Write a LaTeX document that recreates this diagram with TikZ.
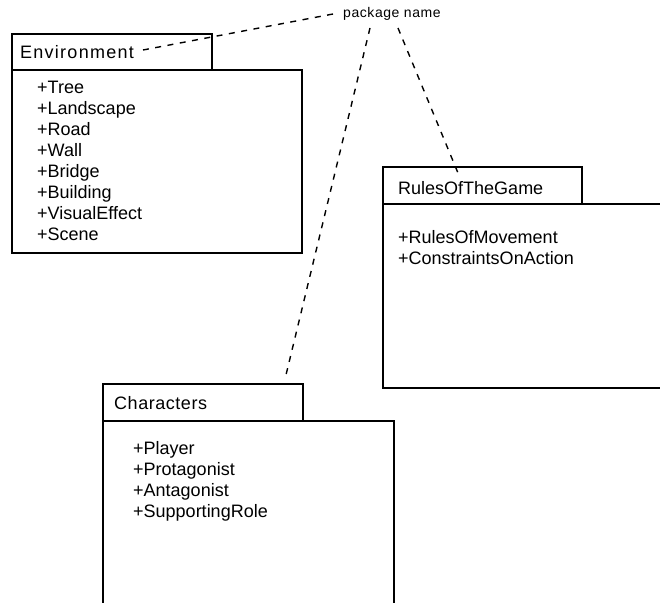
\documentclass[tikz,border=0pt]{standalone}
\usepackage{fontspec}
\setmainfont{Liberation Sans}
\begin{document}
\begin{tikzpicture}[x=1pt,y=-1pt,
  frame/.style={draw=black,line width=1.6pt},
  label/.style={anchor=base west,inner sep=0pt,font=\fontsize{18}{21}\selectfont},
  item/.style={anchor=base west,inner sep=0pt,font=\fontsize{18}{21}\selectfont},
  link/.style={draw=black,line width=1.4pt,dash pattern=on 6pt off 6.5pt}]
\useasboundingbox (0,0) rectangle (660,602);

% package name label
\node[anchor=base west,inner sep=0pt,font=\fontsize{14}{16}\selectfont\addfontfeature{LetterSpace=4}] (pkg) at (343,18) {package name};

% Environment package
\draw[frame] (12,70) rectangle (212,34);
\draw[frame] (12,70) rectangle (302,253);
\node[label,font=\fontsize{18}{21}\selectfont\addfontfeature{LetterSpace=7}] (envname) at (20,58) {Environment};
\foreach \t [count=\i from 0] in {Tree,Landscape,Road,Wall,Bridge,Building,VisualEffect,Scene}
  \node[item] (env\i) at (37,{93+21*\i}) {+\t};

% RulesOfTheGame package
\draw[frame] (383,204) rectangle (582,167);
\draw[frame] (661,204) -- (383,204) -- (383,388) -- (661,388);
\node[label] (rulesname) at (398,194) {RulesOfTheGame};
\node[item] (rules0) at (398,243) {+RulesOfMovement};
\node[item] (rules1) at (398,264) {+ConstraintsOnAction};

% Characters package
\draw[frame] (103,421) rectangle (303,384);
\draw[frame] (103,604) -- (103,421) -- (394,421) -- (394,604);
\node[label,font=\fontsize{18}{21}\selectfont\addfontfeature{LetterSpace=3}] (charname) at (114,409) {Characters};
\foreach \t [count=\i from 0] in {Player,Protagonist,Antagonist,SupportingRole}
  \node[item] (char\i) at (133,{454+21*\i}) {+\t};

% dashed links from the package name
\coordinate (pkgA) at (333,14);
\coordinate (pkgB) at (370,28);
\coordinate (pkgC) at (398,28);
\coordinate (envEnd) at (143,50);
\coordinate (charEnd) at (285,379);
\coordinate (rulesEnd) at (458,173);
\draw[link] (pkgA) -- (envEnd);
\draw[link] (pkgB) -- (charEnd);
\draw[link] (pkgC) -- (rulesEnd);
\end{tikzpicture}
\end{document}
